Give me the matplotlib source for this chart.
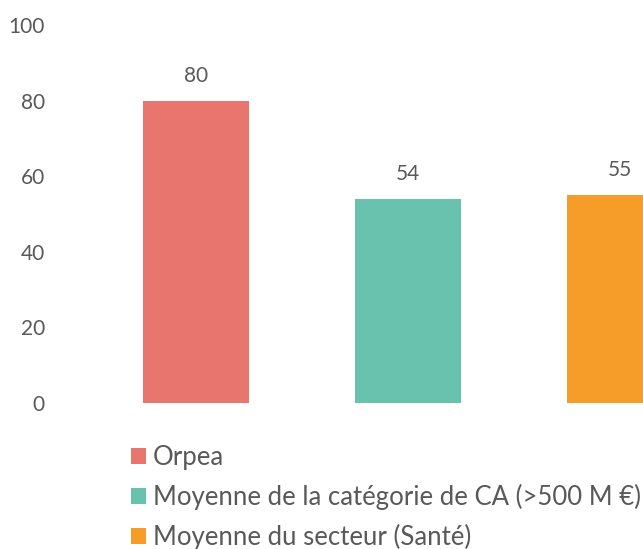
import matplotlib
matplotlib.use("Agg")
import matplotlib.pyplot as plt
from matplotlib.patches import Patch

# data
categories = ["Orpea", "Moyenne de la catégorie de CA (>500 M €)", "Moyenne du secteur (Santé)"]
values = [80, 54, 55]
colors = ["#E8756E", "#68C2AE", "#F59D28"]
yticks = [0, 20, 40, 60, 80, 100]

plt.rcParams['font.family'] = ['Lato', 'DejaVu Sans']
txt = "#595959"

fig = plt.figure(figsize=(6.43, 5.49), dpi=100)
ax = fig.add_axes([0.1, 0.2659, 0.9, 0.6885])

x = range(len(values))
bars = ax.bar(x, values, width=0.5, color=colors)
for b, v in zip(bars, values):
    ax.text(b.get_x() + b.get_width() / 2, v + 4.0, str(v), ha="center", va="bottom",
            fontsize=15, color=txt)

ax.set_xlim(-0.6226, 2.1085)
ax.set_ylim(0, 100)
ax.set_yticks(yticks)
ax.set_xticks([])
ax.tick_params(axis="y", length=0, pad=14, labelsize=15, labelcolor=txt)
for s in ax.spines.values():
    s.set_visible(False)

handles = [Patch(facecolor=c, edgecolor="none") for c in colors]
fig.legend(handles, categories, loc="upper left", bbox_to_anchor=(0.204, 0.189),
           frameon=False, fontsize=18.5, labelcolor=txt, handlelength=0.58, handleheight=0.58,
           handletextpad=0.27, labelspacing=0.54, borderaxespad=0, borderpad=0)

fig.savefig("out.png", dpi=100)
